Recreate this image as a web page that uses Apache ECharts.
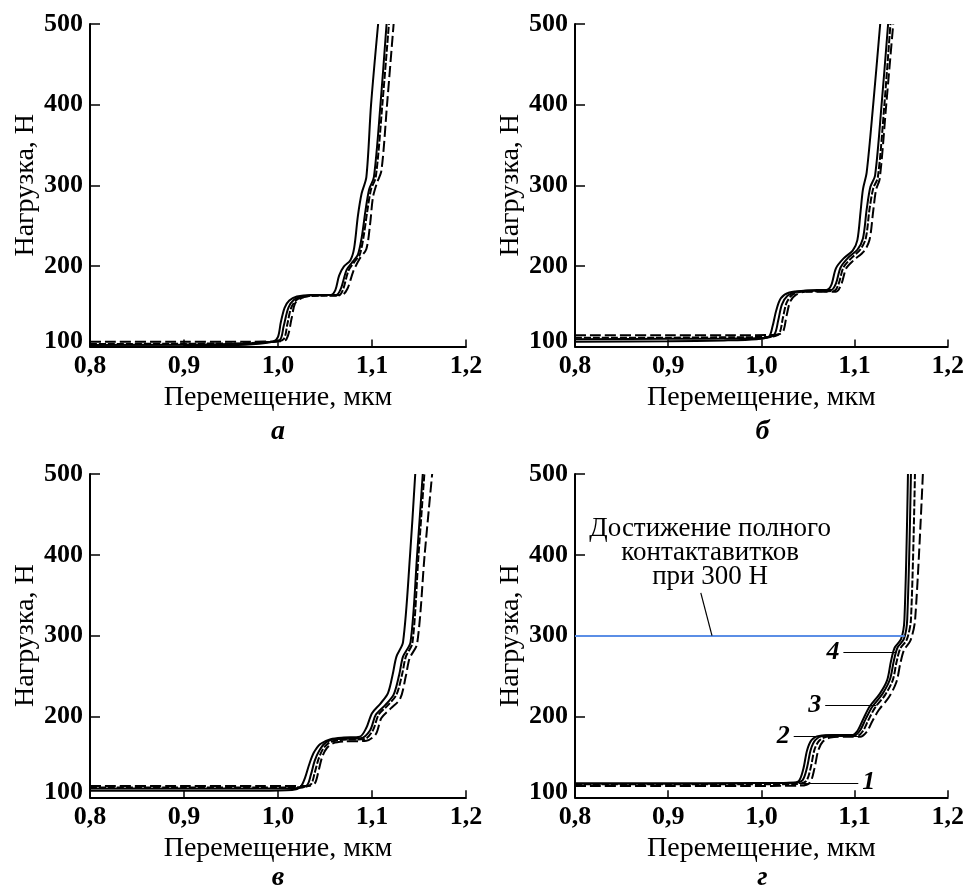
<!DOCTYPE html>
<html>
<head>
<meta charset="utf-8">
<script src="https://cdn.jsdelivr.net/npm/echarts@6/dist/echarts.min.js"></script>
<style>
html,body{margin:0;padding:0;background:#fff;}
#chart{width:967px;height:888px;}
</style>
</head>
<body>
<div id="chart"></div>
<script>
// ---------- data ----------
const xTicks = [0.8, 0.9, 1.0, 1.1, 1.2];
const yTicks = [100, 200, 300, 400, 500];
const panelLabels = ['а', 'б', 'в', 'г'];
const xTitle = 'Перемещение, мкм';
const yTitle = 'Нагрузка, Н';
const curveNames = ['1', '2', '3', '4'];

// panel а
const a1 = [[0.80,100],[0.90,100.5],[0.95,101.5],[0.98,103.5],[0.995,106],[1.000,112],[1.003,130],[1.007,148],[1.012,157],[1.020,162],[1.035,164],[1.056,164],[1.061,170],[1.065,188],[1.070,199],[1.077,207],[1.081,222],[1.085,262],[1.089,290],[1.094,310],[1.099,400],[1.1065,500]];
const a2 = [[0.80,102],[0.90,102.5],[0.96,103.5],[0.99,105.5],[1.002,108],[1.006,125],[1.011,148],[1.017,158],[1.026,162],[1.040,164],[1.062,164],[1.067,172],[1.073,195],[1.080,206],[1.085,214],[1.089,235],[1.093,268],[1.097,295],[1.102,310],[1.109,400],[1.1155,500]];
const a3 = [[0.80,103],[0.90,103.5],[0.96,104],[0.995,106],[1.006,109],[1.010,128],[1.014,148],[1.020,158],[1.030,162],[1.045,163],[1.064,163],[1.069,170],[1.075,194],[1.082,206],[1.087,214],[1.091,236],[1.095,268],[1.099,295],[1.104,310],[1.111,400],[1.118,500]];
const a4 = [[0.80,106],[0.90,106],[0.97,106],[1.000,106.5],[1.009,109],[1.0145,135],[1.018,153],[1.025,160],[1.035,163],[1.068,164],[1.074,172],[1.080,193],[1.087,209],[1.094,221],[1.098,252],[1.101,285],[1.105,302],[1.110,318],[1.116,400],[1.123,500]];

// panel б
const b1 = [[0.80,106],[0.90,106.5],[0.96,107.5],[0.995,109],[1.008,112],[1.012,125],[1.016,145],[1.021,160],[1.030,167],[1.050,169],[1.070,170],[1.075,176],[1.080,197],[1.088,209],[1.098,219],[1.103,232],[1.1065,268],[1.109,295],[1.113,316],[1.120,400],[1.1275,500]];
const b2 = [[0.80,109],[0.90,109.5],[0.97,110],[1.005,111],[1.014,115],[1.018,132],[1.022,152],[1.028,163],[1.038,168],[1.060,170],[1.075,170],[1.080,178],[1.085,198],[1.093,210],[1.103,220],[1.109,234],[1.113,270],[1.117,298],[1.122,312],[1.129,400],[1.136,500]];
const b3 = [[0.80,111],[0.90,111],[0.97,111.5],[1.010,112],[1.019,116],[1.023,135],[1.027,154],[1.033,164],[1.043,168],[1.078,169],[1.083,178],[1.088,198],[1.096,209],[1.106,220],[1.112,234],[1.116,270],[1.120,296],[1.125,310],[1.132,400],[1.1385,500]];
const b4 = [[0.80,114],[0.90,114],[0.97,114],[1.015,114.5],[1.023,118],[1.027,138],[1.031,156],[1.037,164],[1.047,168],[1.080,168],[1.086,178],[1.091,197],[1.099,207],[1.110,218],[1.116,232],[1.120,268],[1.123,294],[1.127,308],[1.134,400],[1.1415,500]];

// panel в
const c1 = [[0.80,108],[0.90,108],[0.98,108],[1.015,109],[1.024,113],[1.029,125],[1.033,140],[1.038,155],[1.045,166],[1.056,172],[1.070,174],[1.087,175],[1.094,186],[1.100,204],[1.109,216],[1.117,229],[1.122,252],[1.126,274],[1.133,292],[1.1405,400],[1.146,500]];
const c2 = [[0.80,111],[0.90,111],[0.98,111],[1.022,111.5],[1.031,115],[1.035,128],[1.039,145],[1.044,158],[1.051,168],[1.062,172],[1.088,173],[1.098,183],[1.104,202],[1.114,214],[1.123,227],[1.129,252],[1.133,274],[1.141,292],[1.148,400],[1.154,500]];
const c3 = [[0.80,112],[0.90,112],[0.98,112],[1.026,112.5],[1.035,116],[1.039,130],[1.043,147],[1.048,160],[1.055,168],[1.066,171],[1.092,172],[1.101,183],[1.107,202],[1.117,214],[1.126,227],[1.132,252],[1.136,274],[1.143,291],[1.1495,400],[1.1557,500]];
const c4 = [[0.80,114],[0.90,114],[0.98,114],[1.030,114],[1.039,117],[1.043,132],[1.047,150],[1.052,161],[1.059,167],[1.070,169],[1.094,170],[1.104,178],[1.110,198],[1.120,210],[1.130,222],[1.136,250],[1.140,272],[1.148,290],[1.156,400],[1.164,500]];

// panel г
const d1 = [[0.80,117],[0.90,117],[0.98,117.5],[1.030,118],[1.040,120],[1.045,135],[1.049,158],[1.054,171],[1.062,176],[1.080,177],[1.097,177],[1.103,182],[1.109,196],[1.116,212],[1.127,228],[1.135,245],[1.139,268],[1.143,285],[1.150,296],[1.1535,320],[1.1573,500]];
const d2 = [[0.80,117],[0.90,117],[0.98,117.5],[1.034,118],[1.044,121],[1.049,137],[1.053,159],[1.058,171],[1.066,176],[1.084,177],[1.100,177],[1.106,183],[1.112,197],[1.119,212],[1.130,228],[1.138,246],[1.142,268],[1.146,285],[1.153,296],[1.1565,320],[1.1605,500]];
const d3 = [[0.80,116],[0.90,116],[0.98,116],[1.038,116.5],[1.048,120],[1.053,137],[1.057,159],[1.062,170],[1.070,175],[1.088,176],[1.103,176],[1.109,182],[1.115,196],[1.122,211],[1.133,227],[1.141,245],[1.145,267],[1.149,284],[1.156,295],[1.1605,320],[1.1648,500]];
const d4 = [[0.80,114],[0.90,114],[0.98,114],[1.042,114.5],[1.052,118],[1.057,136],[1.061,158],[1.066,169],[1.074,174],[1.092,175],[1.106,175],[1.113,181],[1.119,194],[1.126,208],[1.137,224],[1.145,243],[1.149,265],[1.153,282],[1.160,294],[1.165,320],[1.1733,500]];

// annotations (panel г)
const fullContactLoad = 300;
const fullContactEndX = 1.1538;
const noteText = ['Достижение полного', 'контактавитков', 'при 300 Н'];
const noteAnchor = [0.945, 402];
const noteLeader = [[0.935, 353], [0.947, 300]];
const curveTags = [
  { name: '1', from: [1.040, 118], to: [1.104, 118], at: 'end' },
  { name: '2', from: [1.0347, 175], to: [1.104, 175], at: 'start' },
  { name: '3', from: [1.0685, 214], to: [1.1235, 214], at: 'start' },
  { name: '4', from: [1.088, 280], to: [1.1449, 280], at: 'start' }
];

const panels = [[a1,a2,a3,a4],[b1,b2,b3,b4],[c1,c2,c3,c4],[d1,d2,d3,d4]];

// ---------- layout/style ----------
const FONT = '"Liberation Serif", "DejaVu Serif", serif';
const grids = [
  { left: 90, top: 24, width: 376, height: 322.5 },
  { left: 575, top: 24, width: 375, height: 322.5 },
  { left: 90, top: 474, width: 376, height: 323.3 },
  { left: 575, top: 474, width: 375, height: 323.3 }
];
const lineTypes = [
  { type: 'solid' },
  { type: 'solid' },
  { type: [7, 2] },
  { type: [11, 4] }
];

const option = {
  animation: false,
  backgroundColor: '#fff',
  grid: grids,
  xAxis: grids.map((g, i) => ({
    type: 'value', gridIndex: i,
    min: xTicks[0], max: xTicks[xTicks.length - 1], interval: 0.1,
    name: xTitle, nameLocation: 'middle', nameGap: 37,
    nameTextStyle: { fontFamily: FONT, fontSize: 28, color: '#000' },
    axisLine: { show: true, lineStyle: { color: '#000', width: 2 } },
    axisTick: { show: true, inside: true, length: 7, lineStyle: { color: '#000', width: 1.5 } },
    axisLabel: { margin: 7, fontFamily: FONT, fontSize: 26, fontWeight: 'bold', color: '#000',
      formatter: v => v.toFixed(1).replace('.', ',') },
    splitLine: { show: false }
  })),
  yAxis: grids.map((g, i) => ({
    type: 'value', gridIndex: i,
    min: yTicks[0], max: yTicks[yTicks.length - 1], interval: 100,
    name: yTitle, nameLocation: 'middle', nameGap: 48,
    nameTextStyle: { fontFamily: FONT, fontSize: 28, color: '#000' },
    axisLine: { show: true, lineStyle: { color: '#000', width: 2 } },
    axisTick: { show: true, inside: true, length: 10, lineStyle: { color: '#000', width: 1.5 } },
    axisLabel: { margin: 7, fontFamily: FONT, fontSize: 26, fontWeight: 'bold', color: '#000',
      formatter: v => v === yTicks[0] ? '{m|' + v + '}' : String(v),
      rich: { m: { fontFamily: FONT, fontSize: 26, fontWeight: 'bold', color: '#000', padding: [0, 0, 10, 0] } } },
    splitLine: { show: false }
  })),
  graphic: panelLabels.map((t, i) => ({
    type: 'text',
    x: grids[i].left + grids[i].width / 2,
    y: i < 2 ? 432 : 878,
    style: { text: t, fontFamily: FONT, fontSize: 28, fontStyle: 'italic', fontWeight: 'bold',
      fill: '#000', align: 'center', verticalAlign: 'middle' }
  })),
  series: []
};

panels.forEach((curves, p) => {
  curves.forEach((data, k) => {
    const s = {
      type: 'line', name: curveNames[k],
      xAxisIndex: p, yAxisIndex: p,
      data: data, showSymbol: false, symbol: 'none',
      smooth: 0.3,
      lineStyle: { color: '#000', width: 2, type: lineTypes[k].type },
      z: 3
    };
    if (p === 3 && k === 0) {
      const ml = [
        [{ coord: [xTicks[0], fullContactLoad], lineStyle: { color: '#5b8ee6', width: 2, type: 'solid' }, label: { show: false } },
         { coord: [fullContactEndX, fullContactLoad] }],
        [{ coord: noteLeader[0], lineStyle: { color: '#000', width: 1.2, type: 'solid' }, label: { show: false } },
         { coord: noteLeader[1] }]
      ];
      curveTags.forEach(t => {
        ml.push([
          { coord: t.from, lineStyle: { color: '#000', width: 1.2, type: 'solid' },
            label: { show: true, formatter: t.name, position: t.at, distance: 4,
              fontFamily: FONT, fontSize: 26, fontStyle: 'italic', fontWeight: 'bold', color: '#000' } },
          { coord: t.to }
        ]);
      });
      s.markLine = { silent: true, symbol: ['none', 'none'], animation: false, data: ml };
      s.markPoint = {
        silent: true, animation: false,
        data: [{ coord: noteAnchor, symbol: 'circle', symbolSize: 0,
          label: { show: true, formatter: noteText.join('\n'), position: 'inside',
            fontFamily: FONT, fontSize: 27, lineHeight: 24, color: '#000', align: 'center', verticalAlign: 'middle' } }]
      };
    }
    option.series.push(s);
  });
});

const chart = echarts.init(document.getElementById('chart'), null, { renderer: 'canvas' });
chart.setOption(option);
</script>
</body>
</html>
